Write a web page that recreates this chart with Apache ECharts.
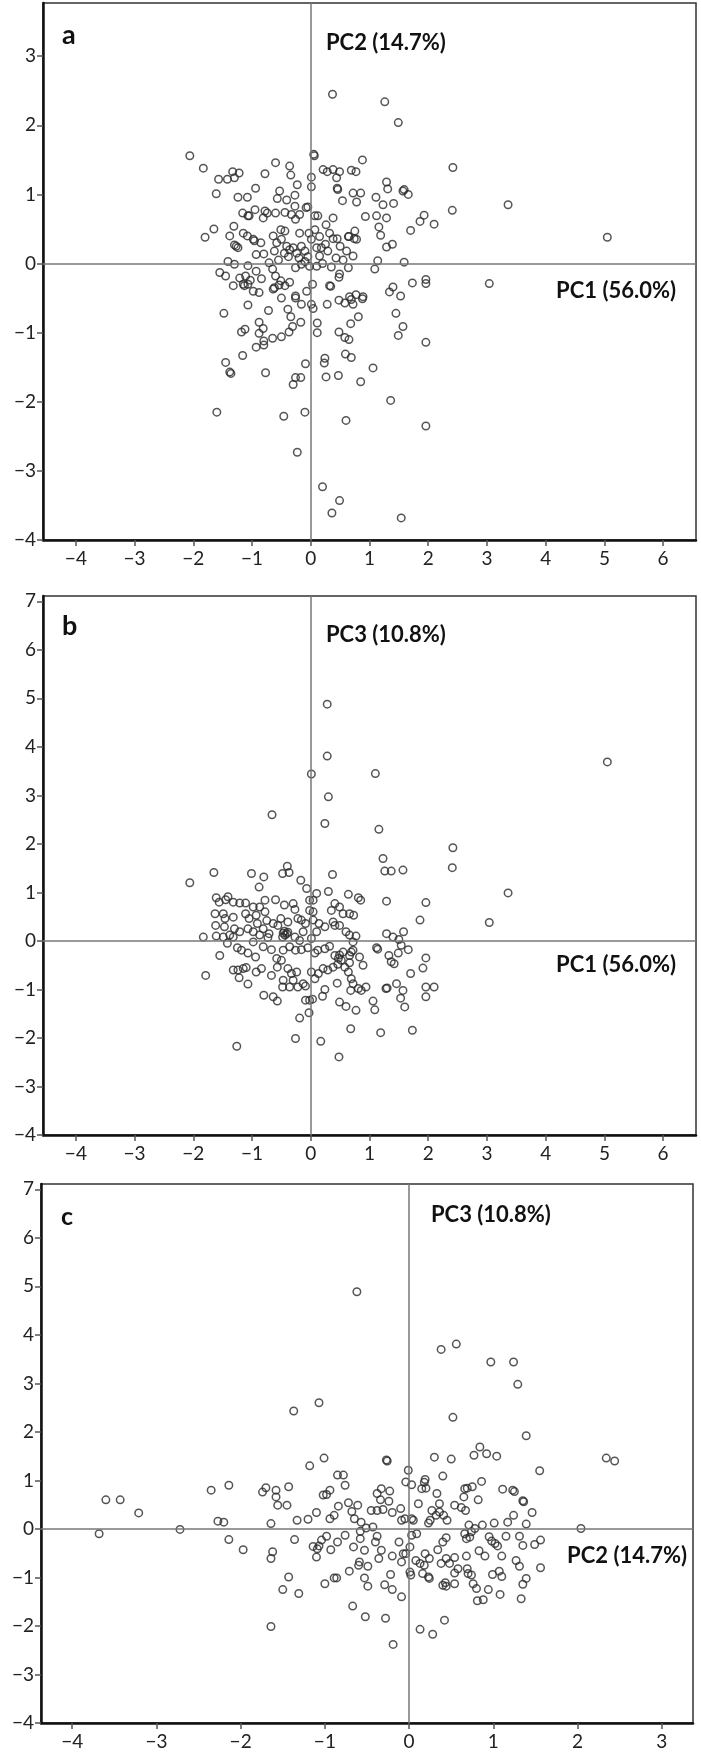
<!DOCTYPE html>
<html>
<head>
<meta charset="utf-8">
<script src="https://cdn.jsdelivr.net/npm/echarts@6/dist/echarts.min.js"></script>
<style>
html,body{margin:0;padding:0;background:#fff;}
#chart{width:701px;height:1754px;}
</style>
</head>
<body>
<div id="chart"></div>
<script>
// ---------- DATA ----------
// Panel a: PC1 (x) vs PC2 (y)
const pc1pc2 = [
[0.37,2.45],[-2.06,1.56],[-1.83,1.38],[-1.57,1.22],[-1.42,1.22],[-1.33,1.33],[-1.22,1.31],[-1.30,1.24],[-1.61,1.01],[-1.24,0.96],
[-1.08,0.96],[-0.94,1.09],[-0.78,1.30],[-0.60,1.46],[-0.36,1.41],[-0.34,1.28],[-0.23,1.14],[-0.27,0.99],[-0.53,1.05],[-0.57,0.94],
[-0.41,0.92],[0.06,1.56],[0.05,1.58],[0.01,1.25],[0.01,1.11],[0.21,1.36],[0.28,1.33],[0.38,1.36],[0.44,1.24],[0.45,1.09],
[0.46,1.07],[0.54,0.91],[0.72,1.02],[-0.27,0.83],[-0.05,0.82],[-0.08,0.81],[-1.16,0.73],[-1.07,0.69],[-1.05,0.69],[-0.95,0.78],
[-0.81,0.66],[-0.78,0.76],[-0.74,0.73],[-0.60,0.73],[-0.44,0.74],[-0.33,0.71],[-0.26,0.64],[-0.19,0.71],[0.07,0.69],[0.12,0.69],
[0.26,0.56],[0.38,0.66],[-1.65,0.50],[-1.80,0.38],[-1.38,0.40],[-1.31,0.54],[-1.15,0.44],[-1.08,0.40],[-0.98,0.35],[-0.96,0.33],
[-1.30,0.27],[-1.24,0.23],[-1.27,0.25],[-0.93,0.13],[-0.80,0.14],[-0.64,0.40],[-0.51,0.49],[-0.44,0.47],[-0.50,0.35],[-0.58,0.30],
[-0.41,0.25],[-0.36,0.20],[-0.19,0.44],[-0.03,0.44],[0.01,0.35],[0.07,0.49],[0.15,0.39],[0.32,0.44],[0.38,0.36],[0.45,0.36],
[0.64,0.39],[0.75,0.47],[0.78,0.35],[-0.16,0.25],[-0.10,0.18],[-0.30,0.23],[-0.24,0.15],[0.10,0.23],[0.18,0.23],[0.15,0.11],
[0.29,0.18],[0.43,0.08],[0.61,0.18],[0.72,0.11],[-1.41,0.03],[-1.30,-0.01],[-1.07,-0.03],[-1.55,-0.13],[-1.45,-0.18],[-1.21,-0.21],
[-1.11,-0.18],[-1.03,-0.24],[-1.07,-0.30],[-0.93,-0.11],[-0.84,-0.22],[-0.71,0.01],[-0.65,-0.08],[-0.60,-0.18],[-0.51,-0.25],[-0.44,-0.32],
[-0.54,-0.31],[-0.36,-0.27],[-0.26,-0.06],[-0.16,-0.01],[-0.10,0.03],[-0.02,-0.04],[0.10,-0.04],[0.03,-0.30],[0.32,-0.32],[0.48,-0.20],
[0.64,-0.06],[0.77,-0.45],[-1.32,-0.32],[-1.15,-0.30],[-0.88,-0.42],[-0.64,-0.37],[-0.26,-0.47],[-0.45,0.15],[-0.38,0.10],[-0.55,0.05],
[-0.20,0.08],[0.20,0.00],[0.35,-0.05],[0.25,0.28],[-0.05,0.10],[-0.62,0.18],[-0.85,0.30],[0.55,0.05],[0.50,0.25],
[1.26,2.34],[1.49,2.04],[0.88,1.50],[0.69,1.35],[0.77,1.33],[0.49,1.33],[2.42,1.39],[1.29,1.18],[1.31,1.08],[1.59,1.07],
[1.66,1.00],[1.57,1.05],[0.85,1.02],[1.11,0.96],[0.78,0.89],[1.23,0.85],[1.41,0.87],[3.36,0.85],[0.93,0.68],[1.12,0.69],
[1.29,0.66],[1.93,0.70],[1.86,0.61],[2.10,0.57],[2.41,0.77],[1.70,0.48],[1.16,0.53],[1.19,0.41],[0.65,0.39],[0.74,0.36],
[1.39,0.28],[1.29,0.24],[1.14,0.04],[1.59,0.02],[5.05,0.38],[1.09,-0.08],[0.49,-0.15],[1.73,-0.28],[1.96,-0.23],[1.96,-0.29],
[3.04,-0.29],[1.40,-0.34],[1.34,-0.41],[0.66,-0.48],[0.89,-0.48],[1.53,-0.47],
[0.69,-0.52],[0.88,-0.51],[0.58,-0.57],[0.72,-0.59],[0.81,-0.77],[0.68,-0.87],[1.45,-0.72],[1.57,-0.91],[1.49,-1.04],[1.96,-1.14],
[0.58,-1.07],[0.65,-1.10],[0.59,-1.31],[0.69,-1.36],[1.06,-1.51],[0.85,-1.71],[1.36,-1.98],[0.60,-2.27],[1.96,-2.35],[0.49,-3.43],
[1.54,-3.68],
[-1.48,-0.72],[-1.07,-0.60],[-0.72,-0.68],[-1.13,-0.32],[-0.98,-0.40],[-0.62,-0.35],[-0.50,-0.50],[-0.39,-0.66],[-0.34,-0.77],[-0.26,-0.50],
[-0.07,-0.40],[-0.16,-0.59],[0.01,-0.59],[0.04,-0.65],[0.28,-0.59],[0.34,-0.33],[0.48,-0.53],[-0.88,-0.85],[-0.81,-0.94],[-1.18,-0.99],
[-1.12,-0.95],[-0.88,-1.01],[-0.65,-1.08],[-0.50,-1.06],[-0.37,-0.99],[-0.31,-0.91],[-0.17,-0.85],[0.11,-0.86],[0.11,-1.00],[0.48,-0.99],
[-0.93,-1.21],[-0.80,-1.12],[-0.80,-1.18],[-1.16,-1.33],[-1.45,-1.43],[-1.38,-1.57],[-1.36,-1.59],[-0.77,-1.58],[-0.09,-1.45],[0.23,-1.44],
[0.24,-1.37],[0.26,-1.64],[0.47,-1.62],[-0.26,-1.65],[-0.17,-1.65],[-0.30,-1.75],[-1.60,-2.15],[-0.46,-2.21],[-0.10,-2.15],[-0.23,-2.73],
[0.20,-3.23],[0.36,-3.61]
];

// Panel b: PC1 (x) vs PC3 (y)
const pc1pc3 = [
[0.28,4.88],[0.28,3.81],[0.01,3.44],[0.30,2.97],[0.24,2.42],[-0.66,2.60],[-1.65,1.41],[-1.01,1.39],[-0.80,1.32],[-0.48,1.39],
[-0.40,1.54],[-0.37,1.41],[-0.17,1.25],[0.37,1.37],[-2.06,1.20],[5.05,3.69],[1.10,3.45],[1.16,2.30],[2.42,1.92],[2.41,1.51],
[1.23,1.70],[1.26,1.44],[1.37,1.44],[1.57,1.46],
[-0.88,1.11],[-0.07,1.08],[0.30,1.02],[0.64,0.96],[-1.61,0.89],[-1.56,0.80],[-1.41,0.91],[-1.45,0.85],[-1.32,0.80],[-1.21,0.78],
[-1.11,0.78],[-0.98,0.70],[-0.87,0.70],[-0.78,0.84],[-0.60,0.85],[-0.45,0.74],[-0.30,0.77],[-0.27,0.65],[-0.02,0.84],[0.04,0.84],
[0.10,0.98],[0.41,0.77],[0.49,0.70],[0.35,0.63],[0.55,0.56],[0.66,0.56],[0.73,0.53],[-0.02,0.63],[0.04,0.60],[-1.49,0.56],
[-1.63,0.56],[-1.46,0.46],[-1.32,0.49],[-1.11,0.56],[-1.05,0.46],[-0.93,0.53],[-0.78,0.60],[-0.75,0.42],[-0.64,0.36],[-0.51,0.46],
[-0.39,0.39],[-0.22,0.46],[-0.16,0.43],[-0.09,0.36],[0.04,0.43],[0.14,0.36],[0.24,0.29],[0.38,0.39],[0.41,0.32],[-1.62,0.32],
[-1.47,0.29],[-1.30,0.25],[-1.21,0.19],[-1.07,0.25],[-0.98,0.19],[-0.91,0.36],[-0.81,0.25],[-0.71,0.15],[-0.56,0.32],[-0.47,0.16],
[-0.41,0.15],[-0.44,0.12],[-0.39,0.18],[-0.48,0.08],[-0.45,0.20],[-1.83,0.08],[-1.61,0.10],[-1.49,0.08],[-1.38,0.12],[-1.32,0.08],
[-0.87,0.12],[-0.73,0.07],[-0.27,0.08],[-0.19,0.01],[-0.13,0.19],[0.01,0.05],[0.10,0.19],
[-1.42,-0.05],[-0.98,-0.02],[-0.81,-0.12],[-0.67,-0.18],[-1.55,-0.30],[-1.25,-0.14],[-1.18,-0.19],[-1.07,-0.25],[-0.94,-0.33],[-0.58,-0.36],
[-0.47,-0.19],[-0.36,-0.12],[-0.26,-0.19],[-0.16,-0.18],[-0.05,-0.14],[0.07,-0.25],[0.12,-0.19],[0.24,-0.16],[0.32,-0.11],[0.41,-0.30],
[0.47,-0.36],[0.55,-0.23],[0.66,-0.30],[0.72,-0.19],[0.83,-0.33],
[-1.79,-0.71],[-1.32,-0.60],[-1.24,-0.60],[-1.15,-0.57],[-1.10,-0.55],[-1.22,-0.76],[-1.07,-0.89],[-0.93,-0.64],[-0.84,-0.57],[-0.67,-0.71],
[-0.57,-0.54],[-0.50,-0.40],[-0.47,-0.81],[-0.39,-0.57],[-0.33,-0.67],[-0.30,-0.81],[-0.36,-0.95],[-0.24,-0.64],[-0.22,-0.95],[-0.13,-0.88],
[-0.09,-0.93],[0.01,-0.64],[0.07,-0.78],[0.13,-0.67],[0.21,-0.57],[0.29,-0.60],[0.38,-0.54],[0.46,-0.48],[0.58,-0.54],[0.64,-0.64],
[0.72,-0.88],[0.81,-0.98],[0.68,-1.02],[0.45,-0.87],[-0.80,-1.12],[-0.64,-1.15],[-0.57,-1.24],[-0.48,-0.95],[0.24,-1.00],[0.20,-1.14],
[-0.09,-1.22],[-0.02,-1.22],[0.03,-1.20],[0.49,-1.26],[0.60,-1.35],[0.77,-1.43],[-0.19,-1.59],[-0.03,-1.48],[0.68,-1.81],[-0.26,-2.01],
[0.17,-2.07],[0.48,-2.39],[-1.26,-2.17],
[3.36,0.99],[3.04,0.38],[0.81,0.89],[0.85,0.84],[1.29,0.82],[1.96,0.79],[1.86,0.43],[0.49,0.32],[0.60,0.19],[0.66,0.12],
[0.77,0.10],[0.72,-0.02],[1.29,0.15],[1.40,0.08],[1.50,0.03],[1.58,0.19],[1.54,-0.09],[1.66,-0.18],[1.49,-0.25],[1.12,-0.14],
[1.14,-0.17],[1.33,-0.30],[1.37,-0.43],[1.42,-0.47],[0.69,-0.23],[0.49,-0.29],[0.52,-0.40],[0.66,-0.45],[0.89,-0.50],[1.96,-0.35],
[1.91,-0.56],[1.70,-0.67],[1.96,-0.95],[2.10,-0.95],[1.96,-1.15],[0.69,-0.78],[0.86,-1.02],[0.94,-0.95],[1.28,-0.98],[1.30,-0.97],
[1.46,-0.88],[1.57,-1.02],[1.53,-1.18],[1.60,-1.36],[1.06,-1.24],[1.09,-1.42],[1.19,-1.89],[1.73,-1.84]
];

// Panel c: PC2 (x) vs PC3 (y)
const pc2pc3 = [
[-0.62,4.89],[-1.37,2.43],[-1.07,2.60],[-1.01,1.46],[0.38,3.70],[0.56,3.81],[0.97,3.44],[1.24,3.44],[1.29,2.98],[0.52,2.30],
[1.39,1.92],[0.84,1.69],[0.77,1.52],[0.92,1.55],[1.04,1.50],[0.30,1.48],[0.50,1.44],[2.34,1.46],[2.44,1.40],[-0.27,1.42],
[-0.26,1.40],
[-3.68,-0.10],[-3.60,0.60],[-3.43,0.60],[-3.21,0.33],[-2.72,-0.01],[-2.35,0.80],[-2.14,0.90],[-2.27,0.16],[-2.20,0.14],[-2.14,-0.22],
[-1.97,-0.43],[-1.74,0.76],[-1.70,0.85],[-1.58,0.80],[-1.58,0.66],[-1.56,0.49],[-1.64,0.11],[-1.62,-0.47],[-1.64,-0.61],[-1.43,0.87],
[-1.45,0.49],[-1.33,0.18],[-1.36,-0.22],[-1.20,0.20],[-1.18,1.30],[-0.85,1.11],[-0.76,0.90],[-0.94,0.80],[-0.98,0.71],[-1.02,0.70],
[-0.84,0.47],[-1.10,0.34],[-0.94,0.21],[-0.89,0.28],[-1.14,-0.36],[-1.09,-0.41],[-1.04,-0.23],[-1.07,-0.35],[-1.10,-0.58],[-0.98,-0.15],
[-0.93,-0.43],[-0.85,-0.27],[-0.76,-0.13],[-0.89,-1.01],[-0.86,-1.01],[-1.00,-1.13],[-1.43,-0.99],[-1.50,-1.25],[-1.31,-1.33],[-0.67,-1.59],
[-1.64,-2.01],
[1.55,1.20],[-0.01,1.21],[-0.78,1.11],[-0.04,0.97],[0.03,0.91],[0.19,1.02],[0.18,0.96],[0.15,0.83],[0.20,0.84],[0.40,1.09],
[0.86,0.98],[0.66,0.83],[0.69,0.84],[0.75,0.87],[1.11,0.82],[1.23,0.80],[1.25,0.77],[-0.33,0.83],[-0.23,0.78],[-0.38,0.73],
[-0.34,0.60],[-0.24,0.57],[-0.72,0.54],[-0.61,0.49],[-0.68,0.36],[-0.65,0.21],[-0.57,0.14],[-0.45,0.38],[-0.38,0.38],[-0.31,0.40],
[-0.20,0.34],[-0.10,0.42],[-0.09,0.18],[-0.05,0.21],[0.03,0.21],[0.05,0.18],[0.11,0.52],[0.33,0.73],[0.36,0.52],[0.36,0.35],
[0.32,0.28],[0.41,0.28],[0.45,0.18],[0.27,0.38],[0.25,0.18],[0.23,0.12],[0.54,0.49],[0.62,0.44],[0.67,0.38],[0.65,0.66],
[0.82,0.60],[1.35,0.58],[1.36,0.56],[1.46,0.34],[1.24,0.28],[1.17,0.14],[1.39,0.10],[1.01,0.12],[0.87,0.08],[0.71,0.08],
[0.78,0.01],[0.74,-0.06],[0.66,-0.10],[0.68,-0.20],[0.72,-0.17],[2.04,0.01],[-0.58,-0.05],[-0.58,-0.20],[-0.66,-0.37],[-0.51,0.02],
[-0.43,0.04],[-0.38,-0.15],[-0.40,-0.27],[-0.33,-0.44],[-0.36,-0.61],[-0.53,-0.44],[-0.59,-0.68],[-0.60,-0.75],[-0.49,-0.77],[-0.71,-0.87],
[-0.53,-1.01],[-0.49,-1.18],[-0.29,-1.15],[-0.20,-1.25],[-0.22,-0.94],[-0.20,-0.56],[-0.09,-0.68],[-0.07,-0.51],[-0.12,-0.27],[-0.04,-0.51],
[0.01,-0.37],[0.03,-0.13],[0.09,-0.10],[0.01,-0.89],[0.02,-0.95],[-0.09,-1.40],[0.08,-0.65],[0.13,-0.71],[0.19,-0.51],[0.18,-0.75],
[0.24,-0.61],[0.23,-0.99],[0.24,-1.02],[0.16,-0.92],[0.34,-0.43],[0.40,-0.27],[0.44,-0.18],[0.38,-0.71],[0.44,-0.61],[0.48,-0.71],
[0.54,-0.59],[0.58,-0.82],[0.54,-0.91],[0.40,-1.16],[0.44,-1.18],[0.43,-1.11],[0.54,-1.13],[0.68,-0.56],[0.69,-0.82],[0.70,-0.92],
[0.74,-0.95],[0.76,-1.13],[0.80,-1.23],[0.83,-0.45],[0.90,-0.56],[0.81,-1.48],[0.88,-1.46],[0.94,-1.25],[0.98,-0.25],[1.02,-0.30],
[0.95,-0.16],[1.05,-0.35],[1.10,-0.56],[1.07,-0.87],[1.10,-0.98],[0.99,-0.94],[1.08,-1.35],[1.15,-0.15],[1.27,-0.65],[1.31,-0.77],
[1.31,-0.15],[1.35,-0.34],[1.49,-0.32],[1.56,-0.23],[1.56,-0.80],[1.39,-1.02],[1.35,-1.14],[1.33,-1.44],[-0.52,-1.81],[-0.28,-1.84],
[0.13,-2.07],[0.28,-2.17],[0.42,-1.88],[-0.19,-2.38]
];

// Tick values
const ticksPC1 = [-4,-3,-2,-1,0,1,2,3,4,5,6];
const ticksPC2 = [-4,-3,-2,-1,0,1,2,3];
const ticksPC3 = [-4,-3,-2,-1,0,1,2,3,4,5,6,7];

// Axis extents
const extPC1 = [-4.56, 6.56];
const extPC2y = [-4, 3.77];
const extPC3 = [-4, 7.11];
const extPC2x = [-4.37, 3.37];

// Labels
const panelLetters = ['a','b','c'];
const axisNames = { pc1: 'PC1 (56.0%)', pc2: 'PC2 (14.7%)', pc3: 'PC3 (10.8%)' };

// ---------- CHART ----------
const FONT = 'Lato, "Open Sans", sans-serif';
const fmt = v => (v < 0 ? '\u2212' + Math.abs(v) : String(v));

function makeAxis(gridIndex, ext, ticks, isX) {
  return {
    type: 'value', gridIndex, min: ext[0], max: ext[1],
    axisLine: { show: true, onZero: false, lineStyle: { color: '#111', width: 2.5 } },
    axisTick: { show: true, length: 6, customValues: ticks, lineStyle: { color: '#555', width: 1.5 } },
    axisLabel: { customValues: ticks, formatter: fmt, fontSize: 19, fontFamily: FONT, color: '#222', margin: isX ? 9 : 7 },
    splitLine: { show: false }
  };
}

function makeSeries(idx, data) {
  return {
    type: 'scatter', xAxisIndex: idx, yAxisIndex: idx, data,
    symbol: 'circle', symbolSize: 7.5,
    itemStyle: { color: 'rgba(0,0,0,0)', borderColor: '#2b2b2b', borderWidth: 1.5 },
    emphasis: { disabled: true },
    silent: true,
    markLine: {
      silent: true, symbol: ['none','none'], label: { show: false },
      lineStyle: { color: '#777', width: 1.5, type: 'solid' },
      data: [{ xAxis: 0 }, { yAxis: 0 }]
    }
  };
}

const txt = (x, y, text, size, align) => ({
  type: 'text', x, y,
  style: { text, font: 'bold ' + size + 'px ' + FONT, fill: '#111', textAlign: align, textVerticalAlign: 'middle' }
});

const chart = echarts.init(document.getElementById('chart'), null, { renderer: 'canvas' });
chart.setOption({
  animation: false,
  backgroundColor: '#fff',
  grid: [
    { left: 43, top: 3, width: 653, height: 537, show: true, borderColor: '#333', borderWidth: 1.5 },
    { left: 43, top: 596, width: 653, height: 539, show: true, borderColor: '#333', borderWidth: 1.5 },
    { left: 41, top: 1184, width: 652, height: 539, show: true, borderColor: '#333', borderWidth: 1.5 }
  ],
  xAxis: [
    makeAxis(0, extPC1, ticksPC1, true),
    makeAxis(1, extPC1, ticksPC1, true),
    makeAxis(2, extPC2x, ticksPC2, true)
  ],
  yAxis: [
    makeAxis(0, extPC2y, ticksPC2, false),
    makeAxis(1, extPC3, ticksPC3, false),
    makeAxis(2, extPC3, ticksPC3, false)
  ],
  series: [
    makeSeries(0, pc1pc2),
    makeSeries(1, pc1pc3),
    makeSeries(2, pc2pc3)
  ],
  graphic: [
    txt(62, 35, panelLetters[0], 27, 'left'),
    txt(326, 43, axisNames.pc2, 22, 'left'),
    txt(676, 291, axisNames.pc1, 22, 'right'),
    txt(62, 626, panelLetters[1], 27, 'left'),
    txt(326, 635, axisNames.pc3, 22, 'left'),
    txt(676, 965, axisNames.pc1, 22, 'right'),
    txt(61, 1217, panelLetters[2], 25, 'left'),
    txt(431, 1215, axisNames.pc3, 22, 'left'),
    txt(687, 1556, axisNames.pc2, 22, 'right')
  ]
});
</script>
</body>
</html>
